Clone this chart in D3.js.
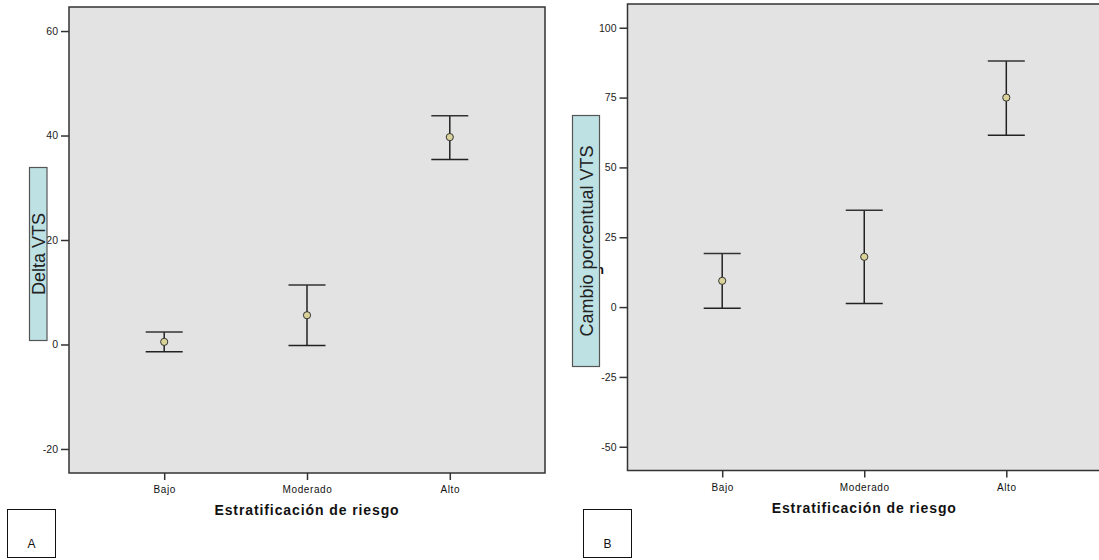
<!DOCTYPE html>
<html>
<head>
<meta charset="utf-8">
<script src="https://cdn.jsdelivr.net/npm/d3@7"></script>
<style>
  body { margin: 0; background: #fff; }
  svg { display: block; font-family: "Liberation Sans", Arial, sans-serif; }
</style>
</head>
<body>
<div id="chart"></div>
<script>
// groups on the x axis
const categories = ["Bajo", "Moderado", "Alto"];

// panel A: Delta VTS (mean and 95% CI)
const deltaMean = [0.5, 5.6, 39.7];
const deltaLower = [-1.4, -0.2, 35.4];
const deltaUpper = [2.4, 11.4, 43.8];
const deltaTicks = [-20, 0, 20, 40, 60];

// panel B: Cambio porcentual VTS
const pctMean = [9.4, 18.0, 75.0];
const pctLower = [-0.4, 1.3, 61.5];
const pctUpper = [19.2, 34.7, 88.1];
const pctTicks = [-50, -25, 0, 25, 50, 75, 100];

const svg = d3.select("#chart").append("svg")
    .attr("width", 1099)
    .attr("height", 560);

function drawPanel(cfg) {
  const w = cfg.right - cfg.left;
  const h = cfg.bottom - cfg.top;

  const x = d3.scalePoint().domain(categories).range([0, w]).padding(2 / 3);
  const y = d3.scaleLinear().domain(cfg.domain).range([h, 0]);

  const g = svg.append("g")
      .attr("transform", `translate(${cfg.left},${cfg.top})`);

  // hidden original axis title peeking from behind the label box
  if (cfg.stray) {
    g.append("text")
        .attr("x", cfg.stray.x - cfg.left)
        .attr("y", cfg.stray.y - cfg.top)
        .attr("font-size", "13px")
        .attr("font-weight", "bold")
        .attr("fill", "#111")
        .text("n");
  }

  // plot background
  g.append("rect")
      .attr("width", w)
      .attr("height", h)
      .attr("fill", "#e3e3e3")
      .attr("stroke", "#333")
      .attr("stroke-width", 1.5);

  // y axis
  const yAxis = g.append("g")
      .call(d3.axisLeft(y).tickValues(cfg.ticks).tickSize(8).tickPadding(3)
        .tickFormat(d => String(d)));
  yAxis.select(".domain").remove();
  yAxis.selectAll("line").attr("stroke", "#333").attr("stroke-width", 1.5);
  yAxis.selectAll("text").attr("font-size", "10.5px").attr("fill", "#222")
      .attr("font-family", "\"Liberation Sans\", Arial, sans-serif");

  // x axis
  const xAxis = g.append("g")
      .attr("transform", `translate(0,${h})`)
      .call(d3.axisBottom(x).tickSize(7).tickPadding(6));
  xAxis.select(".domain").remove();
  xAxis.selectAll("line").attr("stroke", "#333").attr("stroke-width", 1.5);
  xAxis.selectAll("text").attr("font-size", "10px").attr("fill", "#111")
      .attr("letter-spacing", "0.6px")
      .attr("font-family", "\"Liberation Sans\", Arial, sans-serif");

  // x axis title
  g.append("text")
      .attr("x", w / 2)
      .attr("y", h + 42)
      .attr("text-anchor", "middle")
      .attr("font-size", "14px")
      .attr("font-weight", "bold")
      .attr("letter-spacing", "0.9px")
      .attr("fill", "#111")
      .text("Estratificación de riesgo");

  // error bars
  const rows = categories.map((c, i) => ({
    cat: c, mean: cfg.mean[i], lo: cfg.lower[i], hi: cfg.upper[i]
  }));
  const bars = g.selectAll(".err").data(rows).enter().append("g")
      .attr("class", "err")
      .attr("transform", d => `translate(${x(d.cat)},0)`);

  bars.append("line")
      .attr("y1", d => y(d.hi)).attr("y2", d => y(d.lo))
      .attr("stroke", "#222").attr("stroke-width", 1.5);
  bars.append("line")
      .attr("x1", -18.5).attr("x2", 18.5)
      .attr("y1", d => y(d.hi)).attr("y2", d => y(d.hi))
      .attr("stroke", "#333").attr("stroke-width", 1.5);
  bars.append("line")
      .attr("x1", -18.5).attr("x2", 18.5)
      .attr("y1", d => y(d.lo)).attr("y2", d => y(d.lo))
      .attr("stroke", "#222").attr("stroke-width", 1.5);
  bars.append("circle")
      .attr("cy", d => y(d.mean))
      .attr("r", 3.6)
      .attr("fill", "#d9d39a")
      .attr("stroke", "#333")
      .attr("stroke-width", 1);

  // y label box
  const b = cfg.labelBox;
  svg.append("rect")
      .attr("x", b.x).attr("y", b.y)
      .attr("width", b.w).attr("height", b.h)
      .attr("fill", "#bee1e4")
      .attr("stroke", "#555")
      .attr("stroke-width", 1.2);
  svg.append("text")
      .attr("transform", `translate(${b.x + b.w / 2 + 6.5},${b.y + b.h / 2}) rotate(-90)`)
      .attr("text-anchor", "middle")
      .attr("font-size", "18px")
      .attr("fill", "#222")
      .text(cfg.label);

  // panel letter box
  const p = cfg.letterBox;
  svg.append("rect")
      .attr("x", p.x).attr("y", p.y)
      .attr("width", 48).attr("height", 48)
      .attr("fill", "#fff")
      .attr("stroke", "#111")
      .attr("stroke-width", 1);
  svg.append("text")
      .attr("x", p.x + 24).attr("y", p.y + 38)
      .attr("text-anchor", "middle")
      .attr("font-size", "12px")
      .attr("fill", "#111")
      .text(cfg.letter);
}

drawPanel({
  left: 69, right: 545, top: 7, bottom: 473,
  domain: [-24.6, 64.6], ticks: deltaTicks,
  mean: deltaMean, lower: deltaLower, upper: deltaUpper,
  label: "Delta VTS",
  labelBox: {x: 29.5, y: 167.5, w: 17.5, h: 173},
  letter: "A", letterBox: {x: 7.5, y: 509.5}
});

drawPanel({
  left: 627.5, right: 1101, top: 4, bottom: 470.5,
  domain: [-58.5, 108.5], ticks: pctTicks,
  mean: pctMean, lower: pctLower, upper: pctUpper,
  label: "Cambio porcentual VTS",
  labelBox: {x: 572.5, y: 115.5, w: 27, h: 251},
  letter: "B", letterBox: {x: 583.5, y: 509.5},
  stray: {x: 596, y: 274}
});
</script>
</body>
</html>
